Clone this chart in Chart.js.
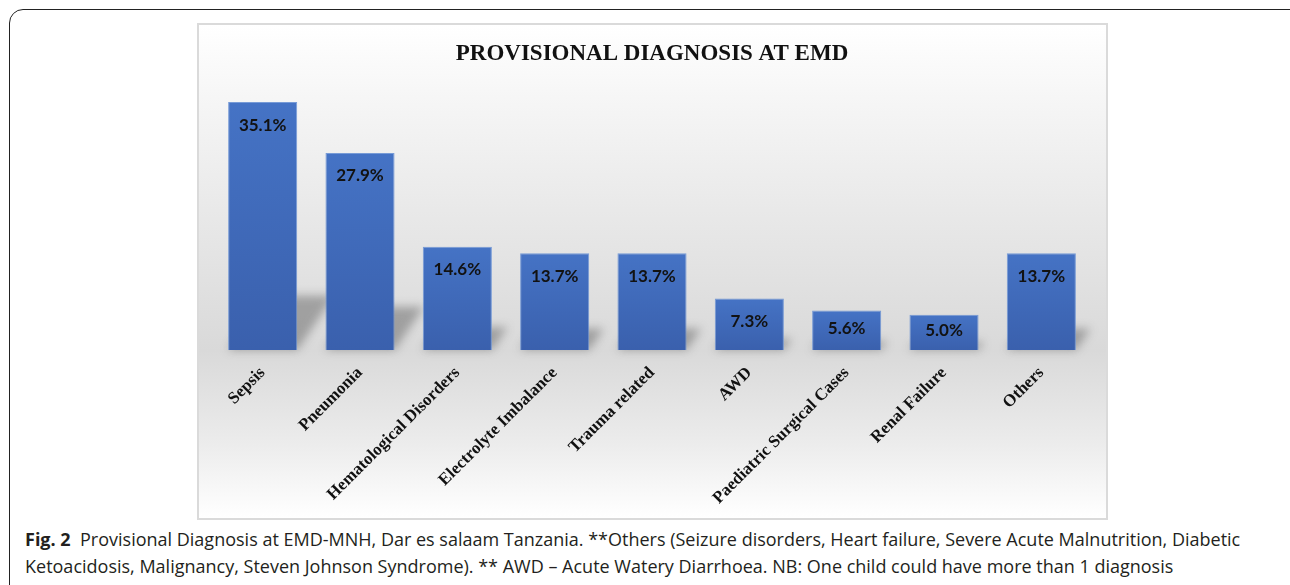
<!DOCTYPE html>
<html>
<head>
<meta charset="utf-8">
<style>
  body { margin: 0; width: 1290px; height: 585px; overflow: hidden; background: #fff; position: relative; }
  .frame { position: absolute; left: 9px; top: 9px; width: 1320px; height: 620px; border: 1.5px solid #222; border-radius: 14px; }
  .box { position: absolute; left: 197px; top: 23px; width: 907px; height: 493px; border: 2px solid #dadada;
         background: linear-gradient(to bottom, #ffffff 0%, #f4f4f4 18%, #d9d9d9 66%, #ececec 85%, #ffffff 100%); }
  .box canvas { position: absolute; left: 0; top: 0; }
  .caption { position: absolute; left: 25px; top: 526px; font-family: "Open Sans", sans-serif; font-size: 18px; line-height: 27px;
             color: #231f20; white-space: nowrap; }
  .caption b { font-weight: bold; }
</style>
</head>
<body>
<div class="frame"></div>
<div class="box"><canvas id="diagChart" width="907" height="493"></canvas></div>
<div class="caption">
  <b>Fig. 2</b>&nbsp; Provisional Diagnosis at EMD-MNH, Dar es salaam Tanzania. **Others (Seizure disorders, Heart failure, Severe Acute Malnutrition, Diabetic<br>
  Ketoacidosis, Malignancy, Steven Johnson Syndrome). ** AWD – Acute Watery Diarrhoea. NB: One child could have more than 1 diagnosis
</div>

<script src="https://cdn.jsdelivr.net/npm/chart.js"></script>
<script>
  // data
  const categories = [
    "Sepsis",
    "Pneumonia",
    "Hematological Disorders",
    "Electrolyte Imbalance",
    "Trauma related",
    "AWD",
    "Paediatric Surgical Cases",
    "Renal Failure",
    "Others",
  ];
  const percentages = [35.1, 27.9, 14.6, 13.7, 13.7, 7.3, 5.6, 5.0, 13.7];

  // soft shadow behind each bar
  const barShadow = {
    id: "barShadow",
    beforeDatasetsDraw(chart) {
      const ctx = chart.ctx;
      chart.getDatasetMeta(0).data.forEach((bar) => {
        const { x, y, base, width } = bar.getProps(["x", "y", "base", "width"], true);
        const h = base - y;
        const left = x - width / 2;
        const right = x + width / 2;
        const s = 0.15 * h;
        const t = 0.22 * h;
        ctx.save();
        ctx.filter = "blur(5px)";
        ctx.fillStyle = "rgba(60,60,60,0.38)";
        ctx.beginPath();
        ctx.moveTo(left, base);
        ctx.lineTo(right, base);
        ctx.lineTo(right + s, base - t);
        ctx.lineTo(left + s, base - t);
        ctx.closePath();
        ctx.fill();
        ctx.restore();
      });
    },
  };

  // value labels inside the top of the bars
  const valueLabels = {
    id: "valueLabels",
    afterDatasetsDraw(chart) {
      const ctx = chart.ctx;
      ctx.save();
      ctx.font = "bold 17px Lato";
      ctx.fillStyle = "#121212";
      ctx.textAlign = "center";
      ctx.textBaseline = "middle";
      chart.getDatasetMeta(0).data.forEach((bar, i) => {
        const { x, y, base } = bar.getProps(["x", "y", "base"], true);
        const ty = Math.min(y + 23, (y + base) / 2 - 2);
        ctx.fillText(percentages[i].toFixed(1) + "%", x, ty);
      });
      ctx.restore();
    },
  };

  const ctx = document.getElementById("diagChart").getContext("2d");

  new Chart(ctx, {
    type: "bar",
    data: {
      labels: categories,
      datasets: [
        {
          label: "Provisional diagnosis",
          data: percentages,
          backgroundColor: (c) => {
            const ys = c.chart.scales.y;
            if (!ys) return "#4472C4";
            const top = ys.getPixelForValue(c.raw);
            const bot = ys.getPixelForValue(0);
            if (!isFinite(top) || !isFinite(bot)) return "#4472C4";
            const g = c.chart.ctx.createLinearGradient(0, top, 0, bot);
            g.addColorStop(0, "#4573c5");
            g.addColorStop(1, "#3a60ad");
            return g;
          },
          borderColor: "rgba(105,145,212,0.9)",
          borderWidth: 1,
          barPercentage: 0.71,
          categoryPercentage: 1,
        },
      ],
    },
    options: {
      responsive: false,
      animation: false,
      layout: { padding: { left: 15, right: 16, top: 0, bottom: 0 } },
      plugins: {
        legend: { display: false },
        tooltip: { enabled: false },
        title: {
          display: true,
          text: "PROVISIONAL DIAGNOSIS AT EMD",
          color: "#111",
          font: { family: "Liberation Serif", weight: "bold", size: 23, lineHeight: 1.15 },
          padding: { top: 16, bottom: 0 },
        },
      },
      scales: {
        x: {
          grid: { display: false },
          border: { display: false },
          ticks: {
            color: "#111",
            font: { family: "Liberation Serif", weight: "bold", size: 17 },
            minRotation: 45,
            maxRotation: 45,
            autoSkip: false,
            padding: 5,
          },
          afterFit: (s) => {
            s.height = 168;
          },
        },
        y: {
          display: false,
          min: 0,
          max: 40,
        },
      },
    },
    plugins: [barShadow, valueLabels],
  });
</script>
</body>
</html>
